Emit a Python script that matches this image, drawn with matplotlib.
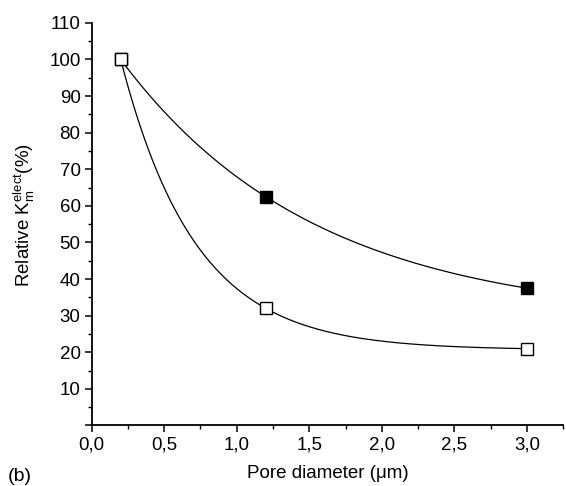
import numpy as np
import matplotlib
matplotlib.use("Agg")
import matplotlib.pyplot as plt
from matplotlib.ticker import MultipleLocator, FuncFormatter

plt.rcParams['font.family'] = ['Liberation Sans', 'DejaVu Sans']
plt.rcParams['mathtext.fontset'] = 'custom'
plt.rcParams['mathtext.rm'] = 'Liberation Sans'
plt.rcParams['mathtext.it'] = 'Liberation Sans:italic'

pore_diameter = [0.2, 1.2, 3.0]
filled_values = [100.0, 62.5, 37.5]
open_values = [100.0, 32.0, 21.0]


def exp_decay_fit(x, y):
    # exact fit of y = y0 + A*exp(-x/t) through three points
    x = np.asarray(x); y = np.asarray(y)
    target = (y[0] - y[1]) / (y[1] - y[2])
    best = None
    for t in np.linspace(0.05, 10, 20000):
        e = np.exp(-x / t)
        r = (e[0] - e[1]) / (e[1] - e[2])
        d = abs(r - target)
        if best is None or d < best[0]:
            best = (d, t)
    t = best[1]
    e = np.exp(-x / t)
    A = (y[0] - y[1]) / (e[0] - e[1])
    y0 = y[0] - A * e[0]
    return lambda xx: y0 + A * np.exp(-xx / t)


fig = plt.figure(figsize=(5.66, 4.86), dpi=100)
ax = fig.add_axes([0.162, 0.1245, 0.833, 0.8285])

xs = np.linspace(pore_diameter[0], pore_diameter[-1], 300)
for vals, face in [(filled_values, 'black'), (open_values, 'white')]:
    f = exp_decay_fit(pore_diameter, vals)
    ax.plot(xs, f(xs), color='black', lw=0.9, zorder=2)
    ax.plot(pore_diameter, vals, ls='none', marker='s', ms=8,
            mfc=face, mec='black', mew=1.0, zorder=3)

ax.set_xlim(0, 3.25)
ax.set_ylim(0, 110)
ax.spines['top'].set_visible(False)
ax.spines['right'].set_visible(False)
ax.xaxis.set_major_locator(MultipleLocator(0.5))
ax.xaxis.set_minor_locator(MultipleLocator(0.25))
ax.yaxis.set_major_locator(MultipleLocator(10))
ax.yaxis.set_minor_locator(MultipleLocator(5))
ax.xaxis.set_major_formatter(FuncFormatter(lambda v, p: f"{v:.1f}".replace('.', ',')))
ax.yaxis.set_major_formatter(FuncFormatter(lambda v, p: "" if v == 0 else f"{int(round(v))}"))
ax.tick_params(which='major', direction='out', length=5, width=1.1, labelsize=13.5, pad=3)
ax.tick_params(which='minor', direction='out', length=3, width=1)
for s in ['left', 'bottom']:
    ax.spines[s].set_linewidth(1.3)

ax.set_xlabel("Pore diameter (\u03bcm)", fontsize=13.5, labelpad=8)
ax.set_ylabel(r"Relative K$_\mathrm{m}^\mathrm{elect}$(%)", fontsize=13.5)
ax.yaxis.set_label_coords(-0.115, 0.523)
fig.text(0.014, 0.01, "(b)", fontsize=14)

fig.savefig("out.png", dpi=100)
